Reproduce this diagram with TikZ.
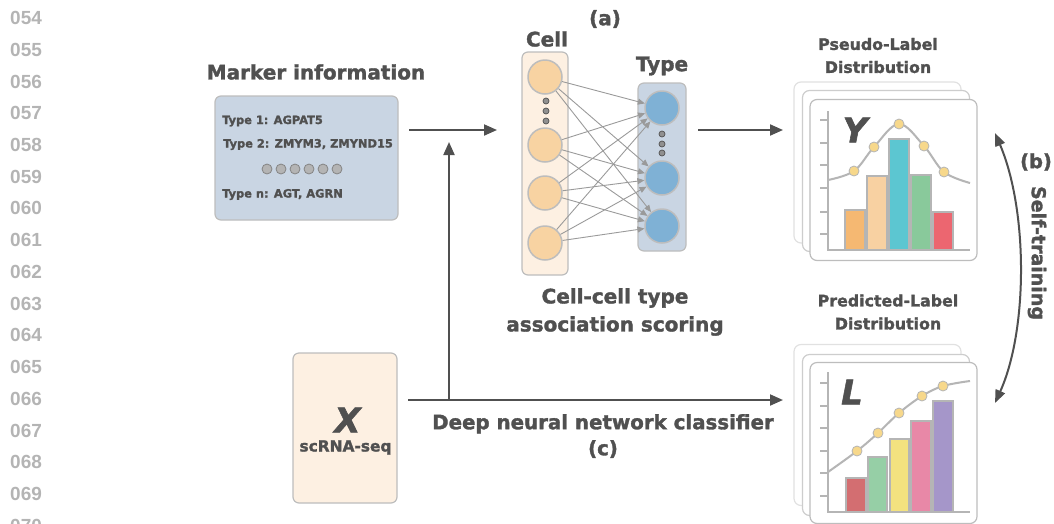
\documentclass[tikz,border=0pt]{standalone}
\usepackage{fontspec}
\setmainfont{DejaVu Sans}[BoldFeatures={FakeBold=1.6}, BoldItalicFeatures={FakeBold=1.6}]
\newfontfamily\numfont{Liberation Sans}
\usetikzlibrary{arrows.meta}

\definecolor{txt}{HTML}{505050}
\definecolor{lnum}{HTML}{B4B4B4}
\definecolor{edge}{HTML}{BDBDBD}
\definecolor{boxblue}{HTML}{C9D5E3}
\definecolor{peach}{HTML}{FDF0E2}
\definecolor{cellfill}{HTML}{F8D3A2}
\definecolor{typefill}{HTML}{7FB1D5}
\definecolor{netline}{HTML}{9A9A9A}
\definecolor{dotfill}{HTML}{F7D88B}
\definecolor{curve}{HTML}{B5B5B5}
\definecolor{barA}{HTML}{F5B872}
\definecolor{barB}{HTML}{F8D1A2}
\definecolor{barC}{HTML}{5CC6D1}
\definecolor{barD}{HTML}{89C99B}
\definecolor{barE}{HTML}{EC6670}
\definecolor{barF}{HTML}{D36E71}
\definecolor{barG}{HTML}{96CFA6}
\definecolor{barH}{HTML}{F3E27F}
\definecolor{barI}{HTML}{E888A7}
\definecolor{barJ}{HTML}{A596C9}

\begin{document}
\begin{tikzpicture}[x=1pt,y=-1pt,
  title/.style={text=txt, font=\bfseries\fontsize{20}{22}\selectfont, inner sep=0pt},
  subtitle/.style={text=txt, font=\bfseries\fontsize{15.8}{23}\selectfont, align=center, inner sep=0pt},
  small/.style={text=txt, font=\bfseries\fontsize{11.4}{13}\selectfont, inner sep=0pt, anchor=west},
  bigvar/.style={text=txt, font=\bfseries\itshape\fontsize{34}{34}\selectfont, inner sep=0pt},
  linenum/.style={text=lnum, font=\numfont\bfseries\fontsize{19}{20}\selectfont, anchor=west, inner sep=0pt},
  panel/.style={draw=edge, line width=1.2pt, rounded corners=6pt, inner sep=0pt},
  neuron/.style={circle, draw=edge, line width=1.5pt, minimum size=34pt, inner sep=0pt},
  tinydot/.style={circle, draw=txt, fill=lnum!80!black, line width=0.7pt, minimum size=6pt, inner sep=0pt},
  listdot/.style={circle, draw=txt!70, fill=lnum, line width=0.8pt, minimum size=10pt, inner sep=0pt},
  card/.style={draw=#1, fill=white, line width=1.2pt, rounded corners=7pt, minimum width=167pt, minimum height=161pt, inner sep=0pt},
  flow/.style={draw=txt, line width=2pt, -{Triangle[length=13pt,width=11pt]}},
  netarrow/.style={draw=netline, line width=0.9pt, -{Triangle[length=7pt,width=6pt]}},
  bar/.style={draw=curve, line width=1.8pt},
  ptdot/.style={circle, fill=dotfill, draw=curve, line width=0.8pt, minimum size=10pt, inner sep=0pt},
]
\useasboundingbox (0,0) rectangle (1054,523);

% line numbers in the margin
\foreach \n [count=\k from 0] in {054,055,056,057,058,059,060,061,062,063,064,065,066,067,068,069,070}
  \node[linenum] (ln\n) at (10,{18+31.73*\k}) {\n};

% marker information panel
\node[title] (mtitle) at (316,72) {Marker information};
\node[panel, fill=boxblue, minimum width=183pt, minimum height=124pt] (marker) at (306.5,158) {};
\node[small] (m1) at (222,121) {Type 1: AGPAT5};
\node[small] (m2) at (223,144.5) {Type 2: ZMYM3, ZMYND15};
\foreach \i in {0,...,5}
  \node[listdot] (md\i) at ({267+14*\i},169) {};
\node[small] (m3) at (222,194.5) {Type n: AGT, AGRN};

% cell / type network
\node[title] (lab-a) at (605,19) {(a)};
\node[title] (lab-cell) at (547,39) {Cell};
\node[title] (lab-type) at (662,66) {Type};
\node[panel, fill=peach, minimum width=46pt, minimum height=223pt] (cellcol) at (545,163.5) {};
\node[panel, fill=boxblue, minimum width=48pt, minimum height=168pt] (typecol) at (662,167) {};
\node[neuron, fill=cellfill] (c1) at (545,77) {};
\node[neuron, fill=cellfill] (c2) at (545,145) {};
\node[neuron, fill=cellfill] (c3) at (545,193) {};
\node[neuron, fill=cellfill] (c4) at (545,243) {};
\node[neuron, fill=typefill] (t1) at (662,108) {};
\node[neuron, fill=typefill] (t2) at (662,178) {};
\node[neuron, fill=typefill] (t3) at (662,226) {};
\foreach \y [count=\k] in {101,111,121} \node[tinydot] (cd\k) at (546,\y) {};
\foreach \y [count=\k] in {134,144,153} \node[tinydot] (td\k) at (662,\y) {};
\foreach \i in {c1,c2,c3,c4}
  \foreach \j in {t1,t2,t3}
    \draw[netarrow] (\i) -- (\j);
\node[title, align=center, font=\bfseries\fontsize{20}{28}\selectfont] (assoc) at (615,312) {Cell-cell type\\association scoring};

% flow arrows
\coordinate (in-net) at (497,130);
\coordinate (out-net-s) at (698,130);
\coordinate (out-net-e) at (783,130);
\coordinate (mk-e) at (409,130);
\draw[flow] (mk-e) -- (in-net);
\draw[flow] (out-net-s) -- (out-net-e);

% pseudo-label distribution
\node[subtitle] (ptitle) at (878,55.5) {Pseudo-Label\\Distribution};
\node[card=edge!45] (p3) at (877.5,162.5) {};
\node[card=edge!75] (p2) at (886,171) {};
\node[card=edge] (p1) at (893.5,180) {};
\draw[curve, line width=1.2pt] (828,111) -- (828,250) -- (970,250);
\foreach \y in {120,143,165,188,212,234} \draw[curve, line width=1.2pt] (820,\y) -- (828,\y);
\filldraw[bar, fill=barA] (845,250) rectangle (865,210);
\filldraw[bar, fill=barB] (867,250) rectangle (887,176);
\filldraw[bar, fill=barC] (889,250) rectangle (909,139);
\filldraw[bar, fill=barD] (911,250) rectangle (931,175);
\filldraw[bar, fill=barE] (933,250) rectangle (953,212);
\draw[curve, line width=2pt] plot[smooth, tension=0.6] coordinates {(828,180) (854,171) (874,147) (899,124) (924,146) (944,172) (970,183)};
\foreach \x/\y [count=\k] in {854/171,874/147,899/124,924/146,944/172}
  \node[ptdot] (pp\k) at (\x,\y) {};
\node[bigvar] (Y) at (855,130) {Y};

% predicted-label distribution
\node[subtitle] (qtitle) at (888,312) {Predicted-Label\\Distribution};
\node[card=edge!45] (q3) at (877.5,425) {};
\node[card=edge!75] (q2) at (886,435) {};
\node[card=edge] (q1) at (893.5,443) {};
\draw[curve, line width=1.2pt] (828,372) -- (828,512) -- (970,512);
\foreach \y in {383,406,428,451,473,496} \draw[curve, line width=1.2pt] (820,\y) -- (828,\y);
\filldraw[bar, fill=barF] (846,512) rectangle (866,478);
\filldraw[bar, fill=barG] (868,512) rectangle (887,457);
\filldraw[bar, fill=barH] (890,512) rectangle (909,439);
\filldraw[bar, fill=barI] (911,512) rectangle (931,421);
\filldraw[bar, fill=barJ] (933,512) rectangle (953,401);
\draw[curve, line width=2pt] plot[smooth, tension=0.6] coordinates {(828,472) (857,451) (878,433) (899,413) (922,396) (943,386) (970,381)};
\foreach \x/\y [count=\k] in {857/451,878/433,899/413,922/396,943/386}
  \node[ptdot] (qp\k) at (\x,\y) {};
\node[bigvar] (L) at (852,392) {L};

% self-training loop
\coordinate (st-top) at (995,133);
\coordinate (st-bot) at (995,403);
\draw[draw=txt, line width=2pt, {Triangle[length=13pt,width=10pt]}-{Triangle[length=13pt,width=10pt]}]
  (st-top) .. controls (1028,210) and (1028,330) .. (st-bot);
\node[title, font=\bfseries\fontsize{19.5}{22}\selectfont] (lab-b) at (1036,162) {(b)};
\node[title, rotate=-90, font=\bfseries\fontsize{19}{20}\selectfont] (selft) at (1037,253) {Self-training};

% scRNA-seq input and classifier
\node[panel, fill=peach, minimum width=104pt, minimum height=150pt] (xbox) at (345,428) {};
\node[bigvar] (X) at (347.5,420) {X};
\node[text=txt, font=\bfseries\fontsize{15.4}{17}\selectfont, inner sep=0pt] (xlab) at (345.5,447.5) {scRNA-seq};
\coordinate (x-e) at (408,400);
\coordinate (cls-e) at (783,400);
\coordinate (branch) at (449,400);
\coordinate (branch-top) at (449,142);
\draw[flow] (x-e) -- (cls-e);
\draw[flow] (branch) -- (branch-top);
\node[title, align=center, font=\bfseries\fontsize{19.8}{26}\selectfont] (cls) at (603,436) {Deep neural network classifier\\(c)};
\end{tikzpicture}
\end{document}
